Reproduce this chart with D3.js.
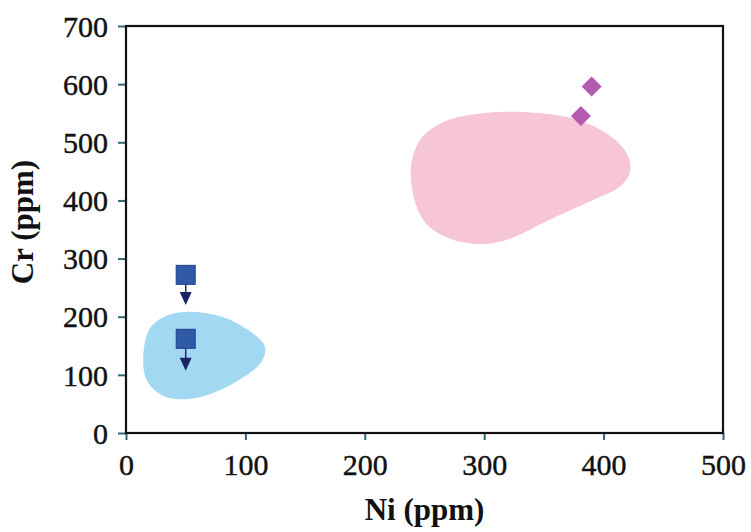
<!DOCTYPE html>
<html>
<head>
<meta charset="utf-8">
<script src="https://cdn.jsdelivr.net/npm/d3@7"></script>
<style>
  body { margin: 0; background: #fff; }
  text { font-family: "Liberation Serif", "Times New Roman", serif; }
</style>
</head>
<body>
<script>
const margin = { top: 26, right: 28, bottom: 99, left: 126 }
const width = 751 - margin.left - margin.right
const height = 532 - margin.top - margin.bottom

// field outlines (Ni, Cr)
const blueField = [[14.5, 131], [20.1, 180], [35.4, 203], [55, 208.6], [80.2, 200], [102.4, 177], [116.4, 148],
  [113.6, 123], [96.9, 94], [71.8, 68], [49.4, 58], [29.9, 65], [17.3, 91]]
const pinkField = [[238.4, 447], [246.2, 504], [265.7, 535], [299.2, 550], [341.1, 551], [374.6, 541], [402.6, 515],
  [419.3, 481], [422.1, 449], [413.7, 424], [391.4, 401], [355.1, 367], [321.6, 334], [299.2, 325], [271.4, 334], [249, 366]]

// samples
const squareNi = [50, 50]
const squareCr = [272, 162]
const arrowTipCr = [220, 107]
const diamondNi = [390, 381]
const diamondCr = [596, 545]

const xTicks = [0, 100, 200, 300, 400, 500]
const yTicks = [0, 100, 200, 300, 400, 500, 600, 700]

const svg = d3.select('body').append('svg')
  .attr('width', 751)
  .attr('height', 532)
    .append('g')
      .attr('transform', `translate(${margin.left},${margin.top})`)

const x = d3.scaleLinear().domain([0, 500]).range([0, width])
const y = d3.scaleLinear().domain([0, 700]).range([height, 0])

const line = d3.line()
  .x(d => x(d[0]))
  .y(d => y(d[1]))
  .curve(d3.curveCatmullRomClosed.alpha(0.5))

svg.append('path')
  .attr('d', line(blueField))
  .attr('fill', '#a3d8f2')

svg.append('path')
  .attr('d', line(pinkField))
  .attr('fill', '#f7c5d8')

// axes
const xAxis = svg.append('g')
  .attr('transform', `translate(0,${height})`)
  .call(d3.axisBottom(x).tickValues(xTicks).tickSizeInner(7).tickSizeOuter(0).tickPadding(14))
const yAxis = svg.append('g')
  .call(d3.axisLeft(y).tickValues(yTicks).tickSizeInner(8).tickSizeOuter(0).tickPadding(10))

;[xAxis, yAxis].forEach(a => {
  a.select('.domain').remove()
  a.selectAll('line').attr('stroke', '#2f6878').attr('stroke-width', 2)
  a.selectAll('text')
    .attr('fill', '#111')
    .attr('stroke', '#111')
    .attr('stroke-width', 0.4)
    .style('font-size', '30px')
    .style('font-family', '"Liberation Serif", serif')
})
yAxis.selectAll('text').attr('dy', '0.34em')

svg.append('rect')
  .attr('width', width)
  .attr('height', height)
  .attr('fill', 'none')
  .attr('stroke', '#111')
  .attr('stroke-width', 2.2)

// arrows
const sq = 19
squareNi.forEach((ni, i) => {
  const cx = x(ni)
  const top = y(squareCr[i]) + sq / 2
  const tip = y(arrowTipCr[i])
  svg.append('line')
    .attr('x1', cx).attr('x2', cx)
    .attr('y1', top).attr('y2', tip - 10)
    .attr('stroke', '#1c2a6e')
    .attr('stroke-width', 1.5)
  svg.append('path')
    .attr('d', `M${cx - 6},${tip - 13}L${cx + 6},${tip - 13}L${cx},${tip}Z`)
    .attr('fill', '#1a2462')
})

svg.selectAll('.sq')
  .data(squareNi)
  .enter()
    .append('rect')
      .attr('class', 'sq')
      .attr('x', d => x(d) - sq / 2)
      .attr('y', (d, i) => y(squareCr[i]) - sq / 2)
      .attr('width', sq)
      .attr('height', sq)
      .attr('fill', '#2f5aa8')
      .attr('stroke', '#213f8c')
      .attr('stroke-width', 1)

svg.selectAll('.dm')
  .data(diamondNi)
  .enter()
    .append('path')
      .attr('class', 'dm')
      .attr('d', d3.symbol(d3.symbolSquare, 200))
      .attr('transform', (d, i) => `translate(${x(d)},${y(diamondCr[i])}) rotate(45)`)
      .attr('fill', '#b25bb0')

// titles
svg.append('text')
  .attr('x', width / 2)
  .attr('y', height + 87)
  .attr('text-anchor', 'middle')
  .style('font-size', '31px')
  .style('font-weight', 'bold')
  .attr('fill', '#111')
  .text('Ni (ppm)')

svg.append('text')
  .attr('transform', `translate(${33 - margin.left},${222 - margin.top}) rotate(-90)`)
  .attr('text-anchor', 'middle')
  .style('font-size', '31px')
  .style('font-weight', 'bold')
  .attr('fill', '#111')
  .text('Cr (ppm)')
</script>
</body>
</html>
